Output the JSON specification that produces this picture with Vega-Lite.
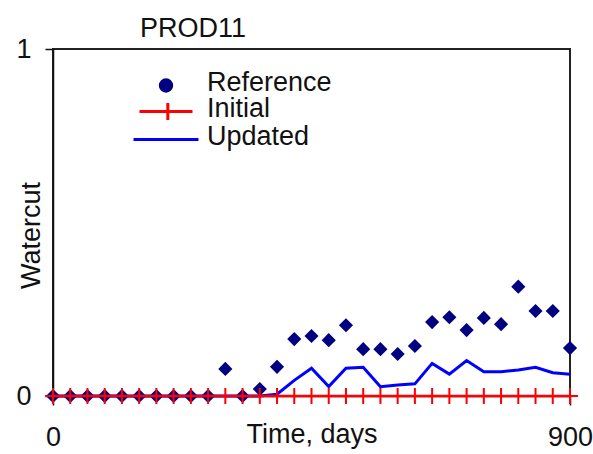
{
  "$schema": "https://vega.github.io/schema/vega-lite/v6.json",
  "width": 517,
  "height": 347,
  "autosize": {"type": "none"},
  "padding": {"left": 53, "top": 49, "right": 23, "bottom": 58},
  "background": "white",
  "title": {"text": "PROD11", "anchor": "start", "frame": "group", "align": "left", "dx": 87, "offset": -8, "font": "Liberation Sans", "fontSize": 27, "fontWeight": "normal", "color": "#111"},
  "data": {"values": [
    {"day": 0, "series": "Reference", "watercut": 0},
    {"day": 30, "series": "Reference", "watercut": 0},
    {"day": 60, "series": "Reference", "watercut": 0},
    {"day": 90, "series": "Reference", "watercut": 0},
    {"day": 120, "series": "Reference", "watercut": 0},
    {"day": 150, "series": "Reference", "watercut": 0},
    {"day": 180, "series": "Reference", "watercut": 0},
    {"day": 210, "series": "Reference", "watercut": 0},
    {"day": 240, "series": "Reference", "watercut": 0},
    {"day": 270, "series": "Reference", "watercut": 0},
    {"day": 300, "series": "Reference", "watercut": 0.078},
    {"day": 330, "series": "Reference", "watercut": 0},
    {"day": 360, "series": "Reference", "watercut": 0.02},
    {"day": 390, "series": "Reference", "watercut": 0.084},
    {"day": 420, "series": "Reference", "watercut": 0.164},
    {"day": 450, "series": "Reference", "watercut": 0.173},
    {"day": 480, "series": "Reference", "watercut": 0.161},
    {"day": 510, "series": "Reference", "watercut": 0.204},
    {"day": 540, "series": "Reference", "watercut": 0.135},
    {"day": 570, "series": "Reference", "watercut": 0.135},
    {"day": 600, "series": "Reference", "watercut": 0.121},
    {"day": 630, "series": "Reference", "watercut": 0.144},
    {"day": 660, "series": "Reference", "watercut": 0.213},
    {"day": 690, "series": "Reference", "watercut": 0.227},
    {"day": 720, "series": "Reference", "watercut": 0.19},
    {"day": 750, "series": "Reference", "watercut": 0.225},
    {"day": 780, "series": "Reference", "watercut": 0.207},
    {"day": 810, "series": "Reference", "watercut": 0.315},
    {"day": 840, "series": "Reference", "watercut": 0.245},
    {"day": 870, "series": "Reference", "watercut": 0.245},
    {"day": 900, "series": "Reference", "watercut": 0.138},
    {"day": 0, "series": "Initial", "watercut": 0},
    {"day": 30, "series": "Initial", "watercut": 0},
    {"day": 60, "series": "Initial", "watercut": 0},
    {"day": 90, "series": "Initial", "watercut": 0},
    {"day": 120, "series": "Initial", "watercut": 0},
    {"day": 150, "series": "Initial", "watercut": 0},
    {"day": 180, "series": "Initial", "watercut": 0},
    {"day": 210, "series": "Initial", "watercut": 0},
    {"day": 240, "series": "Initial", "watercut": 0},
    {"day": 270, "series": "Initial", "watercut": 0},
    {"day": 300, "series": "Initial", "watercut": 0},
    {"day": 330, "series": "Initial", "watercut": 0},
    {"day": 360, "series": "Initial", "watercut": 0},
    {"day": 390, "series": "Initial", "watercut": 0},
    {"day": 420, "series": "Initial", "watercut": 0},
    {"day": 450, "series": "Initial", "watercut": 0},
    {"day": 480, "series": "Initial", "watercut": 0},
    {"day": 510, "series": "Initial", "watercut": 0},
    {"day": 540, "series": "Initial", "watercut": 0},
    {"day": 570, "series": "Initial", "watercut": 0},
    {"day": 600, "series": "Initial", "watercut": 0},
    {"day": 630, "series": "Initial", "watercut": 0},
    {"day": 660, "series": "Initial", "watercut": 0},
    {"day": 690, "series": "Initial", "watercut": 0},
    {"day": 720, "series": "Initial", "watercut": 0},
    {"day": 750, "series": "Initial", "watercut": 0},
    {"day": 780, "series": "Initial", "watercut": 0},
    {"day": 810, "series": "Initial", "watercut": 0},
    {"day": 840, "series": "Initial", "watercut": 0},
    {"day": 870, "series": "Initial", "watercut": 0},
    {"day": 900, "series": "Initial", "watercut": 0},
    {"day": 0, "series": "Updated", "watercut": 0},
    {"day": 30, "series": "Updated", "watercut": 0},
    {"day": 60, "series": "Updated", "watercut": 0},
    {"day": 90, "series": "Updated", "watercut": 0},
    {"day": 120, "series": "Updated", "watercut": 0},
    {"day": 150, "series": "Updated", "watercut": 0},
    {"day": 180, "series": "Updated", "watercut": 0},
    {"day": 210, "series": "Updated", "watercut": 0},
    {"day": 240, "series": "Updated", "watercut": 0},
    {"day": 270, "series": "Updated", "watercut": 0},
    {"day": 300, "series": "Updated", "watercut": 0},
    {"day": 330, "series": "Updated", "watercut": 0},
    {"day": 360, "series": "Updated", "watercut": 0},
    {"day": 390, "series": "Updated", "watercut": 0.005},
    {"day": 420, "series": "Updated", "watercut": 0.045},
    {"day": 450, "series": "Updated", "watercut": 0.08},
    {"day": 480, "series": "Updated", "watercut": 0.027},
    {"day": 510, "series": "Updated", "watercut": 0.08},
    {"day": 540, "series": "Updated", "watercut": 0.083},
    {"day": 570, "series": "Updated", "watercut": 0.027},
    {"day": 600, "series": "Updated", "watercut": 0.032},
    {"day": 630, "series": "Updated", "watercut": 0.035},
    {"day": 660, "series": "Updated", "watercut": 0.094},
    {"day": 690, "series": "Updated", "watercut": 0.063},
    {"day": 720, "series": "Updated", "watercut": 0.102},
    {"day": 750, "series": "Updated", "watercut": 0.07},
    {"day": 780, "series": "Updated", "watercut": 0.07},
    {"day": 810, "series": "Updated", "watercut": 0.075},
    {"day": 840, "series": "Updated", "watercut": 0.083},
    {"day": 870, "series": "Updated", "watercut": 0.067},
    {"day": 900, "series": "Updated", "watercut": 0.063}
  ]},
  "encoding": {
    "x": {"field": "day", "type": "quantitative",
      "scale": {"domain": [0, 900], "nice": false, "zero": false},
      "axis": {"values": [0, 900], "format": "d", "tickSize": 9, "labelPadding": 40, "labelBaseline": "alphabetic", "labelFlush": false, "labelOverlap": false, "grid": false,
        "title": "Time, days", "titleY": 46, "titleBaseline": "alphabetic"}},
    "y": {"field": "watercut", "type": "quantitative",
      "scale": {"domain": [0, 1], "nice": false},
      "axis": {"values": [0, 1], "format": "d", "tickSize": 8, "labelPadding": 14, "grid": false,
        "title": "Watercut", "titleX": -14, "titleY": 186, "titleAngle": -90, "titleBaseline": "alphabetic", "titleAlign": "center"}},
    "color": {"field": "series", "type": "nominal",
      "scale": {"domain": ["Reference", "Initial", "Updated"], "range": ["#000080", "#ff0000", "#0000ff"]},
      "legend": {"orient": "none", "legendX": 99.5, "legendY": 23, "title": null, "padding": 0,
        "symbolSize": 100, "labelOffset": 27.5, "rowPadding": -5,
        "labelFont": "Liberation Sans", "labelFontSize": 27, "labelColor": "#111",
        "encode": {
          "symbols": {"update": {
            "shape": {"signal": "datum.value === 'Reference' ? 'circle' : (datum.value === 'Initial' ? 'M-5.3,0H5.3M0.36,-1.7V1.7' : 'M-6.5,0H6.5')"},
            "size": {"signal": "datum.value === 'Reference' ? 130 : 100"},
            "fill": {"signal": "datum.value === 'Reference' ? '#000080' : 'transparent'"},
            "stroke": {"signal": "datum.value === 'Reference' ? 'transparent' : (datum.value === 'Initial' ? '#ff0000' : '#0000ff')"},
            "strokeWidth": {"value": 3},
            "opacity": {"value": 1}
          }},
          "labels": {"update": {"dy": {"value": -3}}}
        }}}
  },
  "layer": [
    {"transform": [{"filter": "datum.series === 'Updated'"}], "mark": {"type": "line", "strokeWidth": 3}},
    {"transform": [{"filter": "datum.series === 'Reference'"}], "mark": {"type": "point", "shape": "diamond", "filled": true, "size": 200, "opacity": 1}},
    {"transform": [{"filter": "datum.series === 'Initial'"}], "mark": {"type": "line", "strokeWidth": 2.5}},
    {"transform": [{"filter": "datum.series === 'Initial'"}], "mark": {"type": "point", "shape": "M-1,0H1M0,-1V1", "filled": false, "size": 256, "strokeWidth": 2, "opacity": 1}}
  ],
  "config": {
    "view": {"stroke": "#222", "strokeWidth": 2},
    "axis": {"labelFont": "Liberation Sans", "labelFontSize": 27, "labelColor": "#111", "titleFont": "Liberation Sans", "titleFontSize": 27, "titleFontWeight": "normal", "titleColor": "#111", "domainColor": "#111", "domainWidth": 1.5, "tickColor": "#111", "tickWidth": 1.5}
  }
}
